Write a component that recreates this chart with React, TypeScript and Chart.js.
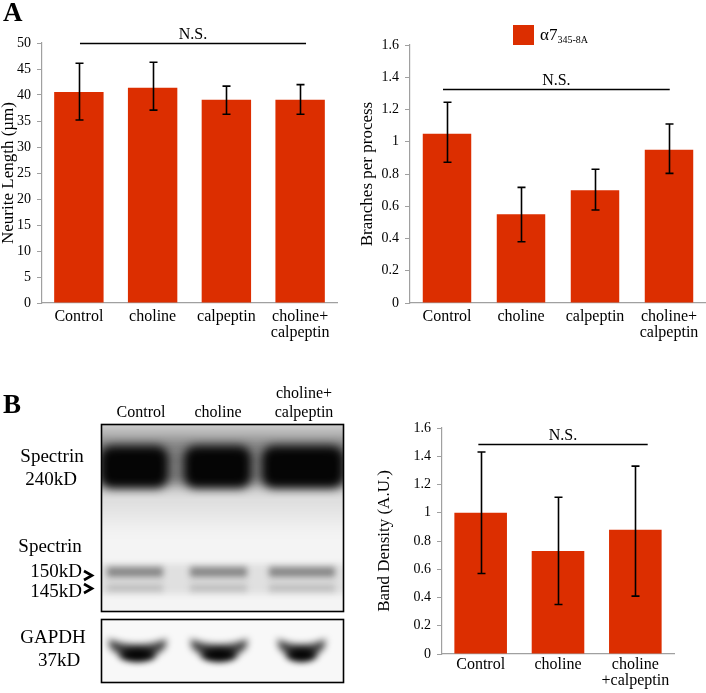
import React, { useEffect, useRef } from 'react';
import { Chart, registerables } from 'chart.js';

Chart.register(...registerables);

const FONT = "'Liberation Serif', 'Times New Roman', Times, serif";
const BAR_COLOR = '#DC2E00';
const AXIS_COLOR = '#a0a0a0';

// ---- Panel A (left): neurite length ----
const neuriteCategories: (string | string[])[] = ['Control', 'choline', 'calpeptin', ['choline+', 'calpeptin']];
const neuriteMeans = [40.6, 41.4, 39.1, 39.1];
const neuriteErrHigh = [46.1, 46.3, 41.7, 42.0];
const neuriteErrLow = [35.2, 37.1, 36.3, 36.3];
const neuriteAxis = { max: 50, step: 5 };
const neuriteTitle = 'Neurite Length (µm)';

// ---- Panel A (right): branches per process ----
const branchCategories: (string | string[])[] = ['Control', 'choline', 'calpeptin', ['choline+', 'calpeptin']];
const branchMeans = [1.05, 0.55, 0.7, 0.95];
const branchErrHigh = [1.245, 0.717, 0.829, 1.11];
const branchErrLow = [0.873, 0.38, 0.577, 0.804];
const branchAxis = { max: 1.6, step: 0.2 };
const branchTitle = 'Branches per process';

// ---- Panel B (right): band density ----
const bandCategories: (string | string[])[] = ['Control', 'choline', ['choline', '+calpeptin']];
const bandMeans = [1.0, 0.73, 0.88];
const bandErrHigh = [1.43, 1.11, 1.33];
const bandErrLow = [0.57, 0.35, 0.41];
const bandAxis = { max: 1.6, step: 0.2 };
const bandTitle = 'Band Density (A.U.)';

const nsLabel = 'N.S.';

function fmt(v: number) {
  return String(parseFloat(Number(v).toFixed(2)));
}

function errorBarPlugin() {
  return {
    id: 'errorBars',
    afterDatasetsDraw(chart: any) {
      const ds: any = chart.data.datasets[0];
      const meta = chart.getDatasetMeta(0);
      const y = chart.scales.y;
      const ctx = chart.ctx;
      ctx.save();
      ctx.strokeStyle = '#000';
      ctx.lineWidth = 1.6;
      meta.data.forEach((bar: any, i: number) => {
        const x = Math.round(bar.x) + 0.5;
        const yh = y.getPixelForValue(ds.errHigh[i]);
        const yl = y.getPixelForValue(ds.errLow[i]);
        ctx.beginPath();
        ctx.moveTo(x, yh);
        ctx.lineTo(x, yl);
        ctx.moveTo(x - 4, yh);
        ctx.lineTo(x + 4, yh);
        ctx.moveTo(x - 4, yl);
        ctx.lineTo(x + 4, yl);
        ctx.stroke();
      });
      ctx.restore();
    },
  };
}

function bracketPlugin(from: number, to: number, value: number, label: string) {
  return {
    id: 'bracket',
    afterDraw(chart: any) {
      const xs = chart.scales.x;
      const ys = chart.scales.y;
      const ctx = chart.ctx;
      const x1 = xs.getPixelForValue(from);
      const x2 = xs.getPixelForValue(to);
      const yy = Math.round(ys.getPixelForValue(value)) + 0.5;
      ctx.save();
      ctx.strokeStyle = '#000';
      ctx.lineWidth = 1.5;
      ctx.beginPath();
      ctx.moveTo(x1, yy);
      ctx.lineTo(x2, yy);
      ctx.stroke();
      ctx.fillStyle = '#000';
      ctx.font = `16px ${FONT}`;
      ctx.textAlign = 'center';
      ctx.textBaseline = 'alphabetic';
      ctx.fillText(label, (x1 + x2) / 2, yy - 5);
      ctx.restore();
    },
  };
}

type PanelProps = {
  left: number;
  top: number;
  width: number;
  height: number;
  categories: (string | string[])[];
  means: number[];
  errHigh: number[];
  errLow: number[];
  axis: { max: number; step: number };
  title: string;
  yWidth: number;
  xHeight: number;
  padTop: number;
  padRight: number;
  titlePad: number;
  barPct: number;
  xTickPad: number;
  bracket: [number, number, number];
};

function BarPanel(p: PanelProps) {
  const ref = useRef<HTMLCanvasElement>(null);
  useEffect(() => {
    if (!ref.current) return;
    const chart = new Chart(ref.current, {
      type: 'bar',
      data: {
        labels: p.categories as any,
        datasets: [
          {
            data: p.means,
            backgroundColor: BAR_COLOR,
            borderWidth: 0,
            categoryPercentage: 1,
            barPercentage: p.barPct,
            errHigh: p.errHigh,
            errLow: p.errLow,
          } as any,
        ],
      },
      options: {
        responsive: false,
        animation: false,
        devicePixelRatio: 1,
        layout: { padding: { top: p.padTop, right: p.padRight, left: 0, bottom: 0 } },
        plugins: {
          legend: { display: false },
          tooltip: { enabled: false },
        },
        scales: {
          x: {
            grid: { display: false, drawTicks: false, drawOnChartArea: false },
            border: { display: true, color: AXIS_COLOR, width: 1.2 },
            ticks: {
              color: '#000',
              font: { family: FONT, size: 16, lineHeight: 1.05 },
              padding: p.xTickPad,
              maxRotation: 0,
              autoSkip: false,
            },
            afterFit: (s: any) => {
              s.height = p.xHeight;
            },
          },
          y: {
            min: 0,
            max: p.axis.max,
            grid: {
              display: true,
              drawOnChartArea: false,
              drawTicks: true,
              tickLength: 5,
              color: AXIS_COLOR,
              tickColor: AXIS_COLOR,
            },
            border: { display: true, color: AXIS_COLOR, width: 1.2 },
            ticks: {
              stepSize: p.axis.step,
              color: '#000',
              font: { family: FONT, size: 14 },
              padding: 6,
              callback: (v: any) => fmt(v),
            },
            title: {
              display: true,
              text: p.title,
              color: '#000',
              font: { family: FONT, size: 17, lineHeight: 1 },
              padding: { top: p.titlePad, bottom: 0 },
            },
            afterFit: (s: any) => {
              s.width = p.yWidth;
            },
          },
        },
      } as any,
      plugins: [errorBarPlugin(), bracketPlugin(p.bracket[0], p.bracket[1], p.bracket[2], nsLabel)],
    });
    return () => chart.destroy();
  }, []);
  return (
    <canvas
      ref={ref}
      width={p.width}
      height={p.height}
      style={{ position: 'absolute', left: p.left, top: p.top, width: p.width, height: p.height }}
    />
  );
}

const lanes240 = [
  [100, 168],
  [184, 251],
  [262, 344],
];
const lanesLow = [
  [104, 166],
  [187, 250],
  [266, 338],
];
const lanesGapdh = [
  [108, 167],
  [190, 248],
  [277, 326],
];

function Blot() {
  const ref = useRef<HTMLCanvasElement>(null);
  useEffect(() => {
    const c = ref.current;
    if (!c) return;
    const ctx = c.getContext('2d')!;
    ctx.clearRect(0, 0, c.width, c.height);
    ctx.save();
    ctx.translate(0, -360);
    const bx = 101;
    const bw = 242;
    const t1 = 424;
    const h1 = 187;
    // ---- main blot ----
    ctx.save();
    ctx.beginPath();
    ctx.rect(bx, t1, bw, h1);
    ctx.clip();
    ctx.fillStyle = '#f4f4f4';
    ctx.fillRect(bx, t1, bw, h1);
    ctx.filter = 'blur(6px)';
    const g = ctx.createLinearGradient(0, t1, 0, 452);
    g.addColorStop(0, 'rgba(0,0,0,0.12)');
    g.addColorStop(1, 'rgba(0,0,0,0.55)');
    ctx.fillStyle = g;
    ctx.fillRect(bx - 10, t1 - 10, bw + 20, 452 - t1 + 10);
    ctx.fillStyle = 'rgba(0,0,0,0.5)';
    ctx.fillRect(bx - 10, 450, bw + 20, 36);
    const g2 = ctx.createLinearGradient(0, 486, 0, 535);
    g2.addColorStop(0, 'rgba(0,0,0,0.12)');
    g2.addColorStop(1, 'rgba(0,0,0,0)');
    ctx.fillStyle = g2;
    ctx.fillRect(bx - 10, 486, bw + 20, 50);
    ctx.filter = 'blur(5px)';
    ctx.fillStyle = '#050505';
    lanes240.forEach(([x0, x1]) => {
      ctx.beginPath();
      (ctx as any).roundRect(x0, 446, x1 - x0, 42, 12);
      ctx.fill();
    });
    ctx.filter = 'blur(3px)';
    ctx.fillStyle = 'rgba(0,0,0,0.08)';
    ctx.fillRect(bx - 10, 564, bw + 20, 30);
    lanesLow.forEach(([x0, x1]) => {
      ctx.fillStyle = 'rgba(0,0,0,0.4)';
      ctx.fillRect(x0 + 3, 567, x1 - x0 - 6, 10);
      ctx.fillStyle = 'rgba(0,0,0,0.15)';
      ctx.fillRect(x0 + 3, 584, x1 - x0 - 6, 8);
    });
    ctx.restore();
    ctx.strokeStyle = '#000';
    ctx.lineWidth = 1.6;
    ctx.strokeRect(bx + 0.5, t1 + 0.5, bw, h1);

    // ---- GAPDH ----
    const t2 = 619;
    const h2 = 63;
    ctx.save();
    ctx.beginPath();
    ctx.rect(bx, t2, bw, h2);
    ctx.clip();
    ctx.fillStyle = '#f8f8f8';
    ctx.fillRect(bx, t2, bw, h2);
    ctx.filter = 'blur(3.5px)';
    lanesGapdh.forEach(([x0, x1]) => {
      const mid = (x0 + x1) / 2;
      ctx.fillStyle = 'rgba(0,0,0,0.75)';
      ctx.beginPath();
      ctx.moveTo(x0, 639);
      ctx.quadraticCurveTo(mid, 650, x1, 639);
      ctx.lineTo(x1 - 2, 648);
      ctx.quadraticCurveTo(mid, 672, x0 + 2, 648);
      ctx.closePath();
      ctx.fill();
      ctx.fillStyle = '#000';
      ctx.beginPath();
      ctx.ellipse(mid, 655, (x1 - x0) * 0.3, 6, 0, 0, Math.PI * 2);
      ctx.fill();
    });
    ctx.restore();
    ctx.strokeStyle = '#000';
    ctx.lineWidth = 1.6;
    ctx.strokeRect(bx + 0.5, t2 + 0.5, bw, h2);

    // ---- arrows ----
    ctx.strokeStyle = '#000';
    ctx.lineWidth = 2.6;
    ctx.lineJoin = 'miter';
    [575.5, 588.5].forEach((cy) => {
      ctx.beginPath();
      ctx.moveTo(84, cy - 4.5);
      ctx.lineTo(92, cy);
      ctx.lineTo(84, cy + 4.5);
      ctx.stroke();
    });
    ctx.restore();
  }, []);
  return (
    <canvas ref={ref} width={360} height={333} style={{ position: 'absolute', left: 0, top: 360, width: 360, height: 333 }} />
  );
}

type LabelProps = { text: string; x: number; base: number; size: number; align?: 'left' | 'center' | 'right'; bold?: boolean };

function Label({ text, x, base, size, align = 'center', bold = false }: LabelProps) {
  const top = base - 0.8375 * size;
  const style: React.CSSProperties = {
    position: 'absolute',
    top,
    fontFamily: FONT,
    fontSize: size,
    lineHeight: 1,
    fontWeight: bold ? 'bold' : 'normal',
    whiteSpace: 'nowrap',
    color: '#000',
  };
  if (align === 'left') style.left = x;
  else if (align === 'right') style.right = 706 - x;
  else {
    style.left = x;
    style.transform = 'translateX(-50%)';
  }
  return <div style={style}>{text}</div>;
}

export default function App() {
  return (
    <div style={{ position: 'absolute', left: 0, top: 0, width: 706, height: 693, background: '#fff', overflow: 'hidden' }}>
      <BarPanel
        left={0}
        top={0}
        width={340}
        height={360}
        categories={neuriteCategories}
        means={neuriteMeans}
        errHigh={neuriteErrHigh}
        errLow={neuriteErrLow}
        axis={neuriteAxis}
        title={neuriteTitle}
        yWidth={42}
        xHeight={57}
        padTop={43}
        padRight={3}
        titlePad={0}
        barPct={0.67}
        xTickPad={5}
        bracket={[0.015, 3.08, 50]}
      />
      <BarPanel
        left={340}
        top={0}
        width={366}
        height={360}
        categories={branchCategories}
        means={branchMeans}
        errHigh={branchErrHigh}
        errLow={branchErrLow}
        axis={branchAxis}
        title={branchTitle}
        yWidth={70}
        xHeight={57}
        padTop={45}
        padRight={0}
        titlePad={19.5}
        barPct={0.655}
        xTickPad={5}
        bracket={[-0.054, 3.01, 1.325]}
      />
      <BarPanel
        left={360}
        top={360}
        width={346}
        height={333}
        categories={bandCategories}
        means={bandMeans}
        errHigh={bandErrHigh}
        errLow={bandErrLow}
        axis={bandAxis}
        title={bandTitle}
        yWidth={82}
        xHeight={39}
        padTop={68}
        padRight={32}
        titlePad={16.5}
        barPct={0.68}
        xTickPad={2}
        bracket={[-0.03, 2.16, 1.485]}
      />
      <Blot />
      {/* legend of panel A right */}
      <div style={{ position: 'absolute', left: 513, top: 25, width: 21, height: 20, background: BAR_COLOR }} />
      <div style={{ position: 'absolute', left: 540, top: 40 - 0.8375 * 17, fontFamily: FONT, fontSize: 17, lineHeight: 1, whiteSpace: 'nowrap' }}>
        α7<span style={{ fontSize: 10, position: 'relative', top: 3 }}>345-8A</span>
      </div>
      <Label text="A" x={3} base={22} size={27} align="left" bold />
      <Label text="B" x={3} base={414} size={27} align="left" bold />
      <Label text="Control" x={141} base={417} size={16} />
      <Label text="choline" x={218} base={417} size={16} />
      <Label text="choline+" x={304} base={398} size={16} />
      <Label text="calpeptin" x={304} base={417} size={16} />
      <Label text="Spectrin" x={52} base={462} size={19} />
      <Label text="240kD" x={51} base={485} size={19} />
      <Label text="Spectrin" x={50} base={552} size={19} />
      <Label text="150kD" x={82} base={577} size={19} align="right" />
      <Label text="145kD" x={82} base={597} size={19} align="right" />
      <Label text="GAPDH" x={53} base={643} size={19} />
      <Label text="37kD" x={59} base={666} size={19} />
    </div>
  );
}
